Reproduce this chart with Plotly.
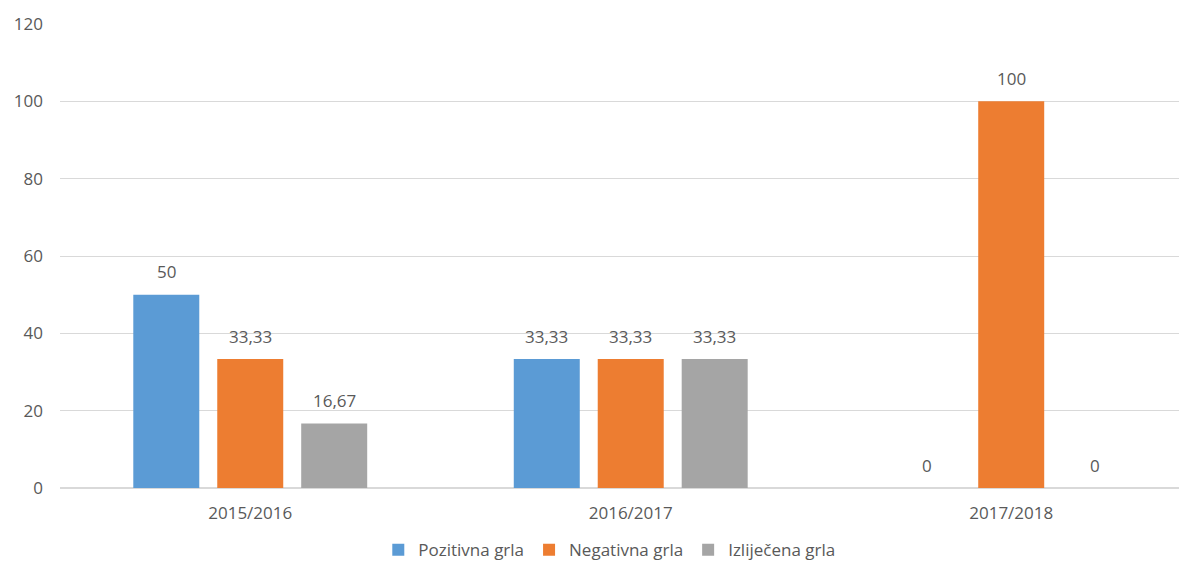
import plotly.graph_objects as go

# Data
seasons = ["2015/2016", "2016/2017", "2017/2018"]
pozitivna = [50, 33.33, 0]
negativna = [33.33, 33.33, 100]
izlijecena = [16.67, 33.33, 0]

series = [
    ("Pozitivna grla", pozitivna, "#5B9BD5"),
    ("Negativna grla", negativna, "#ED7D31"),
    ("Izliječena grla", izlijecena, "#A5A5A5"),
]

font_family = "Open Sans, Liberation Sans, sans-serif"
text_color = "#595959"
slot_px = 84  # horizontal distance between neighbouring bars in a group

fig = go.Figure()
for i, (name, values, color) in enumerate(series):
    fig.add_trace(go.Bar(
        x=seasons,
        y=values,
        name=name,
        marker=dict(color=color, line=dict(width=0)),
    ))
    # value labels, lifted a little above each bar
    for season, v in zip(seasons, values):
        fig.add_annotation(
            x=season, y=v,
            text=f"{v:g}".replace(".", ","),
            showarrow=False,
            xshift=(i - 1) * slot_px,
            yshift=23,
            yanchor="middle",
            font=dict(color=text_color, size=17, family=font_family),
        )

fig.update_layout(
    width=1179,
    height=560,
    margin=dict(l=52, r=0, t=16, b=80),
    paper_bgcolor="white",
    plot_bgcolor="white",
    barmode="group",
    bargap=0.338,
    bargroupgap=0.214,
    font=dict(family=font_family, color=text_color, size=17),
    showlegend=True,
    legend=dict(
        orientation="h",
        xref="container", x=0.51, xanchor="center",
        yref="container", y=0.032, yanchor="middle",
        font=dict(size=17, color=text_color),
        itemwidth=30,
        traceorder="normal",
    ),
    xaxis=dict(
        range=[-0.5, 2.462],
        showgrid=False,
        showline=False,
        ticks="",
        ticklabelstandoff=13,
        tickfont=dict(size=17),
    ),
    yaxis=dict(
        range=[0, 120],
        dtick=20,
        gridcolor="#D9D9D9",
        gridwidth=1,
        zeroline=True,
        zerolinecolor="#D9D9D9",
        showline=False,
        ticks="",
        ticklabelstandoff=16,
        tickfont=dict(size=17),
    ),
)

fig.write_html("out.html")
